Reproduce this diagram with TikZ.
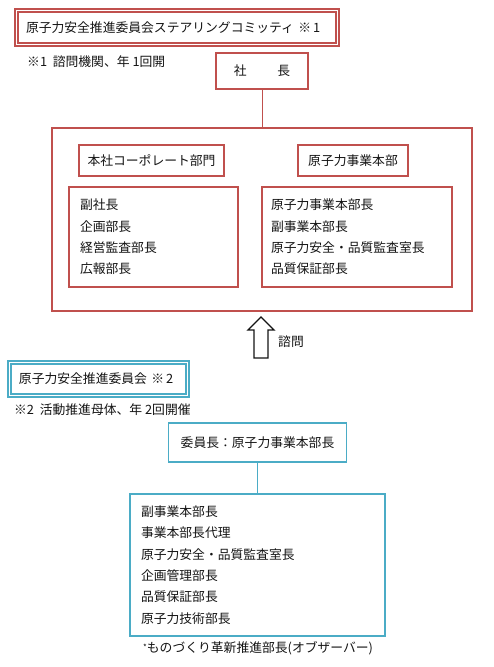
\documentclass[tikz,border=0pt]{standalone}
\usepackage{fontspec}
\setmainfont{Noto Sans CJK JP}
\usetikzlibrary{positioning}
\definecolor{ink}{RGB}{20,20,20}
\definecolor{redline}{RGB}{192,80,77}
\definecolor{blueline}{RGB}{75,172,198}
\tikzset{
  jp/.style={font=\fontsize{12.8}{21.3}\selectfont, text=ink},
  redTitle/.style={jp, draw=redline, line width=1.8pt, double=white,
    double distance=1.3pt, inner ysep=0pt, inner xsep=9.3pt, align=left},
  blueTitle/.style={redTitle, draw=blueline},
  redBox/.style={jp, draw=redline, line width=1.8pt, fill=white, inner sep=0pt},
  blueBox/.style={redBox, draw=blueline},
  redList/.style={redBox, align=left, inner xsep=11pt},
  blueList/.style={blueBox, align=left, inner xsep=11pt},
  note/.style={jp, anchor=west, inner sep=0pt},
  redLink/.style={draw=redline, line width=1pt},
  blueLink/.style={draw=blueline, line width=1pt},
  hollowArrow/.style={draw=ink, line width=1.3pt, fill=white, line join=miter}
}

\begin{document}
\begin{tikzpicture}[x=1pt,y=-1pt]

% Background
\fill[white] (0,0) rectangle (493,667);

% Steering committee
\node[redTitle, text width=302pt, minimum height=33.6pt] (steering) at (177,27.5)
  {原子力安全推進委員会ステアリングコミッティ ※\,1};
\node[note] (note1) at (27,62) {※1\ \ 諮問機関、年 1回開};

% President and company
\node[redBox, minimum width=92pt, minimum height=36pt] (president) at (262,71)
  {社\hspace{2.4em}長};
\node[redBox, minimum width=420pt, minimum height=183pt] (company) at (262,219.5) {};
\node[redBox, minimum width=145pt, minimum height=31pt] (corpHead) at (151.5,160.5)
  {本社コーポレート部門};
\node[redBox, minimum width=110pt, minimum height=31pt] (nuclearHead) at (353,160.5)
  {原子力事業本部};
\node[redList, text width=147pt, minimum height=100pt] (corpList) at (153.5,237)
  {副社長\\企画部長\\経営監査部長\\広報部長};
\node[redList, inner xsep=9pt, text width=172pt, minimum height=100pt] (nuclearList) at (357,237)
  {原子力事業本部長\\副事業本部長\\原子力安全・品質監査室長\\品質保証部長};

\draw[redLink] (president) -- (company);

% Inquiry arrow
\draw[hollowArrow] (261,317) -- (274,330) -- (268,330) -- (268,358) -- (254,358)
  -- (254,330) -- (248,330) -- cycle;
\node[note] (inquiry) at (278,342) {諮問};

% Safety promotion committee
\node[blueTitle, text width=159pt, minimum height=32.6pt] (promotion) at (98.5,379)
  {原子力安全推進委員会 ※\,2};
\node[note] (note2) at (14,410) {※2\ \ 活動推進母体、年 2回開催};

\node[blueBox, minimum width=178pt, minimum height=39pt] (chair) at (257.5,442.5)
  {委員長：原子力事業本部長};
\node[blueList, text width=233pt, minimum height=142pt] (members) at (257.5,565)
  {副事業本部長\\事業本部長代理\\原子力安全・品質監査室長\\企画管理部長\\品質保証部長\\原子力技術部長};
\node[note] (observer) at (143,648) {\raisebox{2pt}{\footnotesize *}ものづくり革新推進部長(オブザーバー)};

\draw[blueLink] (chair) -- (members);

\end{tikzpicture}
\end{document}
